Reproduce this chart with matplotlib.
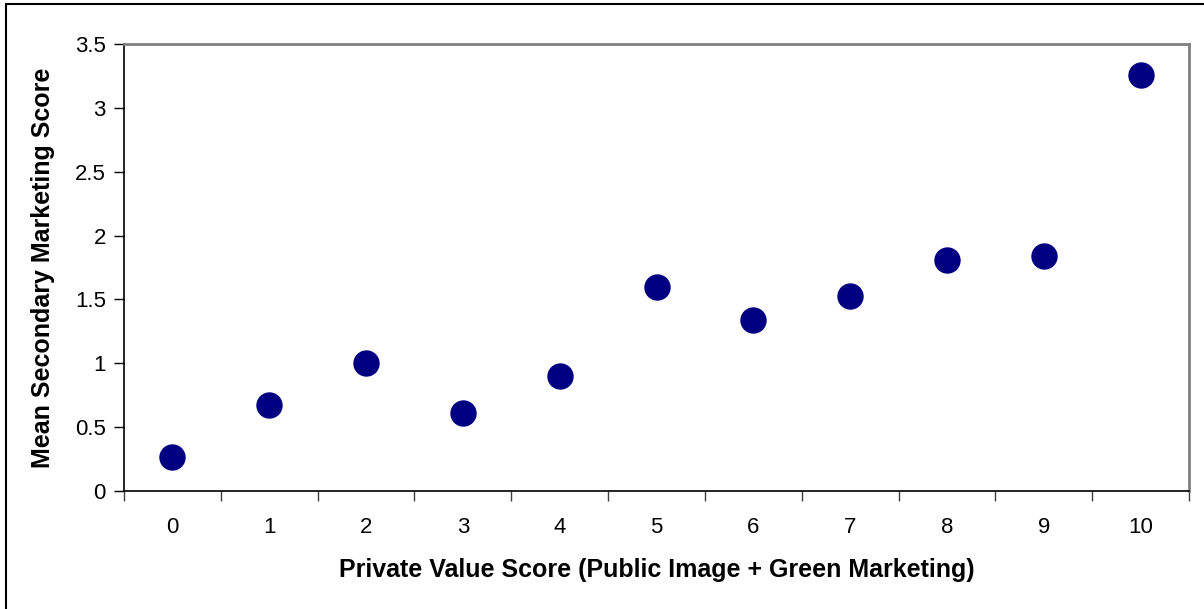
import matplotlib.pyplot as plt
from matplotlib.patches import Rectangle

plt.rcParams['font.family'] = ['Liberation Sans', 'DejaVu Sans']

# data
private_value = [0, 1, 2, 3, 4, 5, 6, 7, 8, 9, 10]
mean_secondary = [0.27, 0.67, 1.00, 0.61, 0.90, 1.60, 1.34, 1.53, 1.81, 1.84, 3.26]
y_ticks = [0, 0.5, 1, 1.5, 2, 2.5, 3, 3.5]
y_tick_labels = ['0', '0.5', '1', '1.5', '2', '2.5', '3', '3.5']

fig = plt.figure(figsize=(12.04, 6.09), dpi=100)
ax = fig.add_axes([124 / 1204, 1 - 491 / 609, (1189 - 124) / 1204, (491 - 44) / 609])

ax.scatter(private_value, mean_secondary, s=19 ** 2, color='#000080', zorder=3,
           clip_on=False, linewidths=0)

ax.set_xlim(-0.5, 10.5)
ax.set_ylim(0, 3.5)

# category axis: ticks at boundaries, labels at centres
ax.set_xticks([i - 0.5 for i in range(12)])
ax.set_xticklabels([])
ax.set_xticks(private_value, minor=True)
ax.set_xticklabels([str(v) for v in private_value], minor=True)
ax.tick_params(axis='x', which='major', direction='out', length=7, width=1, color='#404040')
ax.tick_params(axis='x', which='minor', length=0, labelsize=16, pad=19)

ax.set_yticks(y_ticks)
ax.set_yticklabels(y_tick_labels)
ax.tick_params(axis='y', direction='out', length=7, width=1, labelsize=16, pad=6)

for side in ['left', 'bottom']:
    ax.spines[side].set_color('black')
    ax.spines[side].set_linewidth(1.2)
for side in ['top', 'right']:
    ax.spines[side].set_color('#808080')
    ax.spines[side].set_linewidth(2)

ax.set_xlabel('Private Value Score (Public Image + Green Marketing)',
              fontsize=18, fontweight='bold', labelpad=14)
ax.set_ylabel('Mean Secondary Marketing Score', fontsize=18, fontweight='bold', labelpad=14)

# outer chart border
fig.patches.append(Rectangle((6 / 1204, -0.1), 1.2, 1 - 4 / 609 + 0.1,
                             transform=fig.transFigure, fill=False,
                             edgecolor='black', linewidth=1.5))

fig.savefig('out.png', dpi=100)
plt.close(fig)
